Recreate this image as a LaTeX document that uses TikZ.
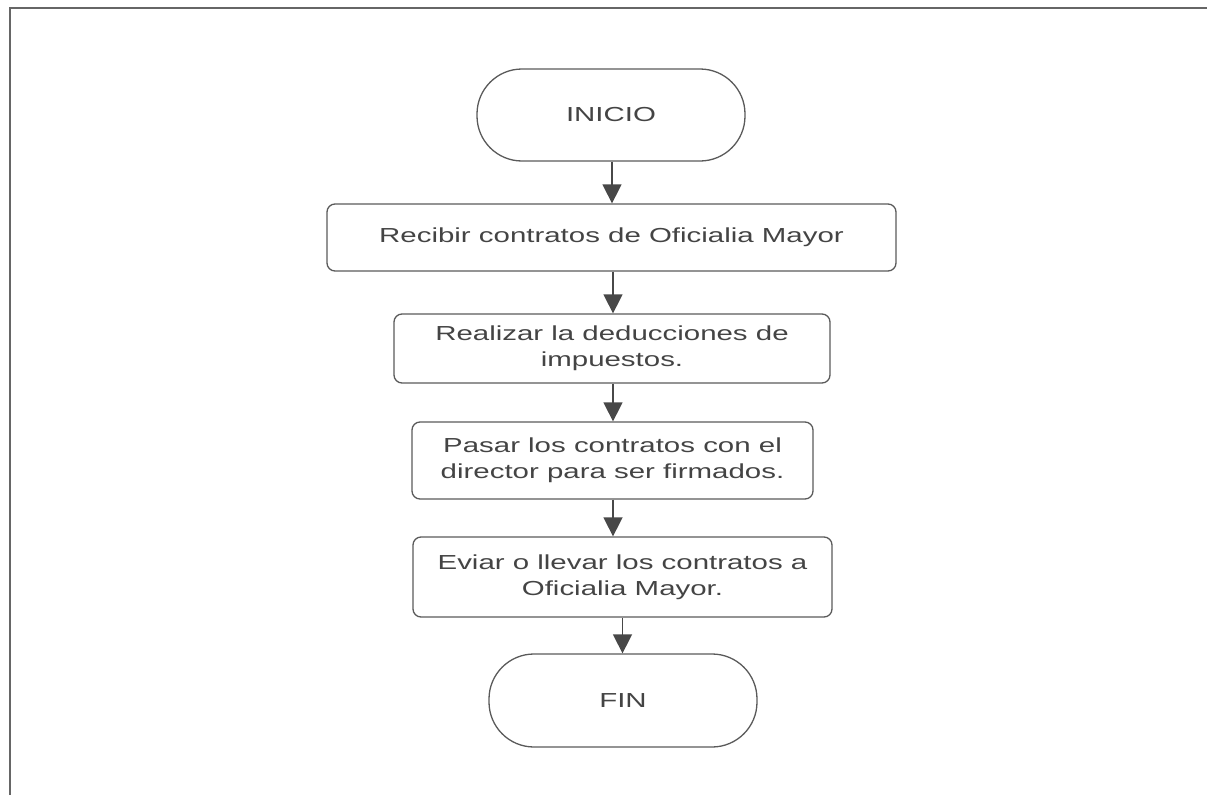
\documentclass[tikz,border=0pt]{standalone}
\usepackage{fontspec}
\setmainfont{Liberation Sans}[FakeStretch=1.45]
\usetikzlibrary{arrows.meta}
\definecolor{txt}{HTML}{444444}
\definecolor{edge}{HTML}{5A5A5A}
\begin{document}
\begin{tikzpicture}[x=1pt,y=-1pt,
  stepbox/.style={draw=edge, line width=1.3pt, rounded corners=8pt, align=center,
    inner sep=0pt, text=txt, font=\fontsize{20.3}{26}\selectfont},
  term/.style={stepbox, rounded corners=45pt},
  flow/.style={draw=edge!80!black, line width=1.5pt,
    -{Triangle[length=19pt,width=19pt]}}
]
\useasboundingbox (0,0) rectangle (1207,795);
\draw[line width=2pt, color=gray!80!black] (10,795) -- (10,8) -- (1207,8);

\node[term, minimum width=268pt, minimum height=92pt] (ini) at (611,115) {INICIO};
\node[stepbox, minimum width=569pt, minimum height=67pt] (b1) at (611.5,237.5) {Recibir contratos de Oficialia Mayor};
\node[stepbox, minimum width=436pt, minimum height=69pt] (b2) at (612,348.5) {Realizar la deducciones de\\impuestos.};
\node[stepbox, minimum width=401pt, minimum height=77pt] (b3) at (612.5,460.5) {Pasar los contratos con el\\director para ser firmados.};
\node[stepbox, minimum width=419pt, minimum height=80pt] (b4) at (622.5,577) {Eviar o llevar los contratos a\\Oficialia Mayor.};
\node[term, minimum width=268pt, minimum height=93pt] (fin) at (623,700.5) {FIN};

\draw[flow] ([xshift=1pt]ini.south) -- ([xshift=1pt]ini.south |- b1.north);
\draw[flow] ([xshift=1.5pt]b1.south) -- ([xshift=1.5pt]b1.south |- b2.north);
\draw[flow] ([xshift=1pt]b2.south) -- ([xshift=1pt]b2.south |- b3.north);
\draw[flow] ([xshift=0.5pt]b3.south) -- ([xshift=0.5pt]b3.south |- b4.north);
\draw[flow] (b4.south) -- (b4.south |- fin.north);
\end{tikzpicture}
\end{document}
